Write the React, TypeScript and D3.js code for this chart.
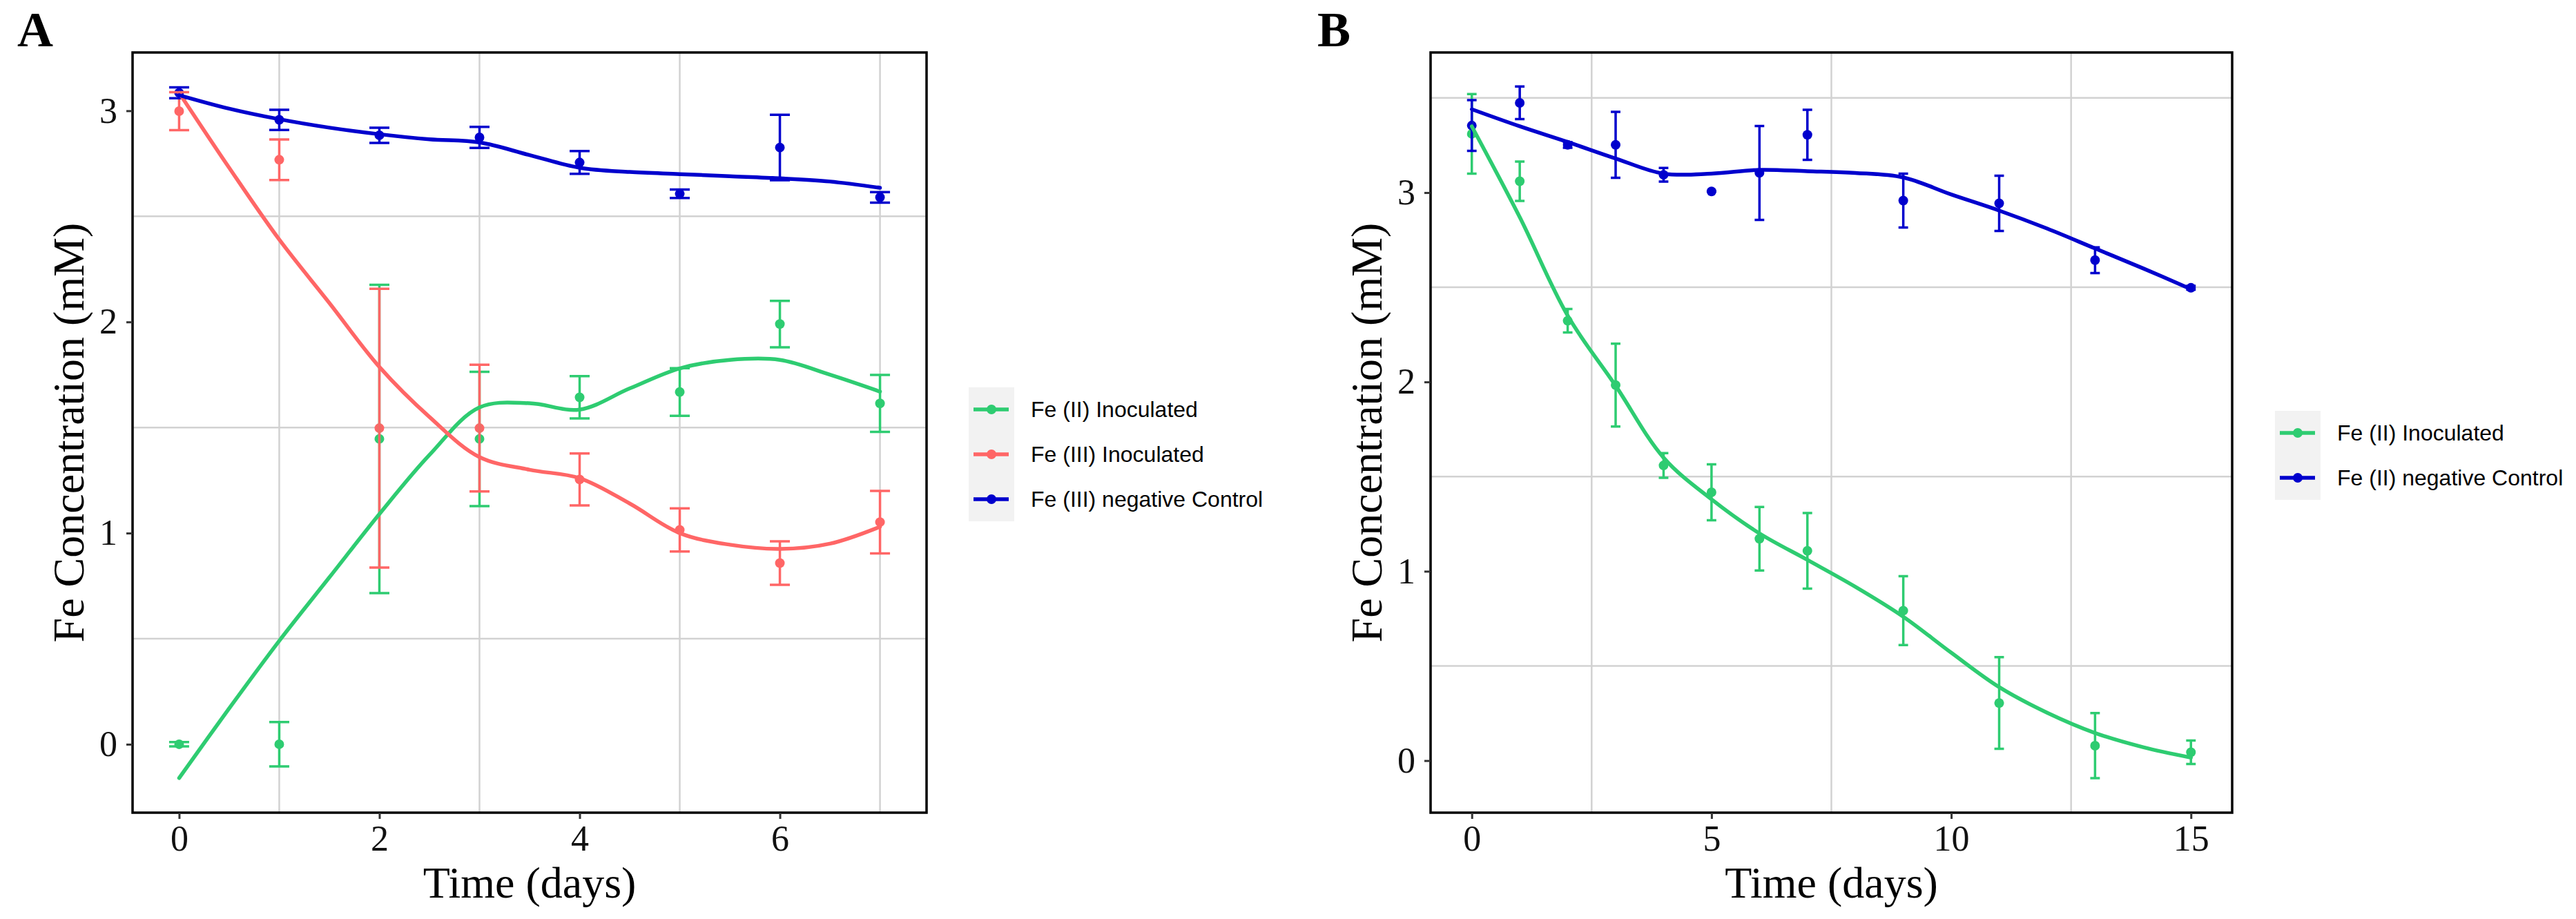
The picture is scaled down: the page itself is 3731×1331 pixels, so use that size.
import React, { useRef, useEffect } from "react";
import {
  select,
  line,
  scaleLinear,
  axisBottom,
  axisLeft,
  curveCatmullRom,
} from "d3";

const GREEN = "#2ecc71";
const RED = "#ff6666";
const BLUE = "#0000cd";
const GRID = "#d2d2d2";
const SERIF = "'Liberation Serif', 'Times New Roman', serif";
const SANS = "'Liberation Sans', Arial, sans-serif";

// ---- panel A (Fe(III) reduction, 7 days) ----
const daysA = [0, 1, 2, 3, 4, 5, 6, 7];
const fe2InocA = [0, 0, 1.446, 1.446, 1.643, 1.668, 1.99, 1.614];
const fe2InocErrA = [0.01, 0.105, 0.73, 0.318, 0.1, 0.113, 0.11, 0.135];
const fe3InocA = [2.998, 2.768, 1.497, 1.497, 1.254, 1.015, 0.858, 1.052];
const fe3InocErrA = [0.09, 0.096, 0.66, 0.3, 0.123, 0.102, 0.103, 0.148];
const fe3CtrlA = [3.085, 2.957, 2.884, 2.874, 2.755, 2.607, 2.826, 2.59];
const fe3CtrlErrA = [0.026, 0.048, 0.036, 0.05, 0.054, 0.02, 0.155, 0.025];

// smoothed fits
const fitDaysA = [0, 0.5, 1, 1.5, 2, 2.5, 3, 3.5, 4, 4.5, 5, 5.5, 6, 6.5, 7];
const fe2FitA = [-0.16, 0.17, 0.49, 0.79, 1.09, 1.37, 1.595, 1.615, 1.585, 1.685, 1.78, 1.82, 1.82, 1.75, 1.67];
const fe3FitA = [3.085, 2.73, 2.39, 2.09, 1.787, 1.55, 1.36, 1.3, 1.26, 1.14, 1.0, 0.945, 0.925, 0.95, 1.03];
const fe3CtrlFitA = [3.074, 3.01, 2.96, 2.92, 2.889, 2.865, 2.85, 2.79, 2.73, 2.71, 2.7, 2.69, 2.68, 2.665, 2.635];

// ---- panel B (Fe(II) oxidation, 15 days) ----
const daysB = [0, 1, 2, 3, 4, 5, 6, 7, 9, 11, 13, 15];
const fe2InocB = [3.31, 3.06, 2.323, 1.983, 1.559, 1.417, 1.172, 1.108, 0.792, 0.304, 0.079, 0.044];
const fe2InocErrB = [0.21, 0.104, 0.062, 0.219, 0.065, 0.148, 0.168, 0.2, 0.182, 0.242, 0.172, 0.062];
const fe2CtrlB = [3.354, 3.474, 3.252, 3.252, 3.094, 3.006, 3.104, 3.305, 2.958, 2.943, 2.643, 2.497];
const fe2CtrlErrB = [0.134, 0.086, 0.015, 0.174, 0.036, 0.0, 0.248, 0.132, 0.142, 0.146, 0.068, 0.01];

const fitDaysB = [0, 1, 2, 3, 4, 5, 6, 7, 8, 9, 10, 11, 12, 13, 14, 15];
const fe2FitB = [3.35, 2.87, 2.35, 1.98, 1.6, 1.38, 1.2, 1.06, 0.918, 0.76, 0.57, 0.388, 0.253, 0.146, 0.071, 0.016];
const fe2CtrlFitB = [3.44, 3.35, 3.267, 3.18, 3.1, 3.1, 3.12, 3.113, 3.104, 3.08, 2.99, 2.905, 2.81, 2.705, 2.6, 2.49];

const yTicks = [0, 1, 2, 3];
const xTicksA = [0, 2, 4, 6];
const xGridA = [1, 3, 5, 7];
const yGridA = [0.5, 1.5, 2.5];
const xTicksB = [0, 5, 10, 15];
const xGridB = [2.5, 7.5, 12.5];
const yGridB = [0.5, 1.5, 2.5, 3.5];

const legendA = ["Fe (II) Inoculated", "Fe (III) Inoculated", "Fe (III) negative Control"];
const legendB = ["Fe (II) Inoculated", "Fe (II) negative Control"];

interface Series {
  color: string;
  days: number[];
  mean: number[];
  err: number[];
  fitDays: number[];
  fit: number[];
}

interface PanelProps {
  label: string;
  labelX: number;
  left: number;
  right: number;
  top: number;
  bottom: number;
  xDomain: [number, number];
  yDomain: [number, number];
  xTicks: number[];
  xGrid: number[];
  yGrid: number[];
  series: Series[];
  legend: string[];
  legendX: number;
  legendTop: number;
}

const Panel: React.FC<PanelProps> = (p) => {
  const gRef = useRef<SVGGElement>(null);
  const cx = (p.left + p.right) / 2;
  const cy = (p.top + p.bottom) / 2;

  useEffect(() => {
    const g = select(gRef.current);
    g.selectAll("*").remove();
    const x = scaleLinear().domain(p.xDomain).range([p.left, p.right]);
    const y = scaleLinear().domain(p.yDomain).range([p.bottom, p.top]);

    g.append("g")
      .selectAll("line")
      .data(p.yGrid)
      .join("line")
      .attr("x1", p.left)
      .attr("x2", p.right)
      .attr("y1", (d) => y(d))
      .attr("y2", (d) => y(d))
      .attr("stroke", GRID)
      .attr("stroke-width", 2.5);
    g.append("g")
      .selectAll("line")
      .data(p.xGrid)
      .join("line")
      .attr("y1", p.top)
      .attr("y2", p.bottom)
      .attr("x1", (d) => x(d))
      .attr("x2", (d) => x(d))
      .attr("stroke", GRID)
      .attr("stroke-width", 2.5);

    const half = 0.1; // errorbar width 0.2 days
    p.series.forEach((s) => {
      const pts = s.days.map((d, i) => ({ d, m: s.mean[i], e: s.err[i] }));
      g.append("g")
        .selectAll("circle")
        .data(pts)
        .join("circle")
        .attr("cx", (q) => x(q.d))
        .attr("cy", (q) => y(q.m))
        .attr("r", 7)
        .attr("fill", s.color);
    });
    p.series.forEach((s) => {
      const pts = s.days.map((d, i) => ({ d, m: s.mean[i], e: s.err[i] }));
      g.append("g")
        .selectAll("path")
        .data(pts)
        .join("path")
        .attr("d", (q) => {
          const x0 = x(q.d - half);
          const x1 = x(q.d + half);
          const xc = x(q.d);
          const yt = y(q.m + q.e);
          const yb = y(q.m - q.e);
          return `M${x0},${yt}H${x1}M${xc},${yt}V${yb}M${x0},${yb}H${x1}`;
        })
        .attr("fill", "none")
        .attr("stroke", s.color)
        .attr("stroke-width", 3.5);
    });
    p.series.forEach((s) => {
      const l = line<number>()
        .x((_, i) => x(s.fitDays[i]))
        .y((v) => y(v))
        .curve(curveCatmullRom);
      g.append("path")
        .attr("d", l(s.fit))
        .attr("fill", "none")
        .attr("stroke", s.color)
        .attr("stroke-width", 5.5)
        .attr("stroke-linecap", "round");
    });

    g.append("rect")
      .attr("x", p.left)
      .attr("y", p.top)
      .attr("width", p.right - p.left)
      .attr("height", p.bottom - p.top)
      .attr("fill", "none")
      .attr("stroke", "#000")
      .attr("stroke-width", 3.5);

    const xAxis = axisBottom(x).tickValues(p.xTicks).tickSize(9).tickPadding(9).tickFormat((d) => `${d}`);
    const yAxis = axisLeft(y).tickValues(yTicks).tickSize(9).tickPadding(13).tickFormat((d) => `${d}`);
    const ax = g.append("g").attr("transform", `translate(0,${p.bottom})`).call(xAxis);
    const ay = g.append("g").attr("transform", `translate(${p.left},0)`).call(yAxis);
    [ax, ay].forEach((a) => {
      a.select(".domain").remove();
      a.attr("font-size", 52).attr("font-family", SERIF);
      a.selectAll(".tick line").attr("stroke", "#333").attr("stroke-width", 3);
      a.selectAll(".tick text").attr("fill", "#111");
    });
  });

  const rowGap = 65;
  const bgH = 32 + rowGap * (p.legend.length - 1) + 32;
  return (
    <g>
      <g ref={gRef}></g>
      <text x={p.labelX} y={67} fontFamily={SERIF} fontWeight="bold" fontSize={72}>
        {p.label}
      </text>
      <text x={cx} y={1300} textAnchor="middle" fontFamily={SERIF} fontSize={64}>
        Time (days)
      </text>
      <text
        transform={`translate(${p.left - 71},${cy}) rotate(-90)`}
        textAnchor="middle"
        fontFamily={SERIF}
        fontSize={64}
      >
        Fe Concentration (mM)
      </text>
      <rect x={p.legendX} y={p.legendTop} width={66} height={bgH} fill="#f2f2f2" />
      {p.legend.map((name, i) => {
        const ry = p.legendTop + 32 + i * rowGap;
        const c = p.series[i].color;
        return (
          <g key={name}>
            <line x1={p.legendX + 7} x2={p.legendX + 58} y1={ry} y2={ry} stroke={c} strokeWidth={5.5} />
            <circle cx={p.legendX + 33} cy={ry} r={7} fill={c} />
            <text x={p.legendX + 90} y={ry} dy="0.35em" fontFamily={SANS} fontSize={32} fill="#000">
              {name}
            </text>
          </g>
        );
      })}
    </g>
  );
};

const App: React.FC = () => {
  const seriesA: Series[] = [
    { color: GREEN, days: daysA, mean: fe2InocA, err: fe2InocErrA, fitDays: fitDaysA, fit: fe2FitA },
    { color: RED, days: daysA, mean: fe3InocA, err: fe3InocErrA, fitDays: fitDaysA, fit: fe3FitA },
    { color: BLUE, days: daysA, mean: fe3CtrlA, err: fe3CtrlErrA, fitDays: fitDaysA, fit: fe3CtrlFitA },
  ];
  const seriesB: Series[] = [
    { color: GREEN, days: daysB, mean: fe2InocB, err: fe2InocErrB, fitDays: fitDaysB, fit: fe2FitB },
    { color: BLUE, days: daysB, mean: fe2CtrlB, err: fe2CtrlErrB, fitDays: fitDaysB, fit: fe2CtrlFitB },
  ];
  return (
    <div>
      <style>{`body{margin:0;background:#fff}`}</style>
      <svg width={3731} height={1331} style={{ display: "block", background: "#fff" }}>
        <Panel
          label="A"
          labelX={25}
          left={192}
          right={1342}
          top={76}
          bottom={1177}
          xDomain={[-0.465, 7.465]}
          yDomain={[-0.324, 3.276]}
          xTicks={xTicksA}
          xGrid={xGridA}
          yGrid={yGridA}
          series={seriesA}
          legend={legendA}
          legendX={1403}
          legendTop={561}
        />
        <Panel
          label="B"
          labelX={1908}
          left={2072}
          right={3233}
          top={76}
          bottom={1177}
          xDomain={[-0.86, 15.86]}
          yDomain={[-0.275, 3.74]}
          xTicks={xTicksB}
          xGrid={xGridB}
          yGrid={yGridB}
          series={seriesB}
          legend={legendB}
          legendX={3295}
          legendTop={595}
        />
      </svg>
    </div>
  );
};

export default App;
